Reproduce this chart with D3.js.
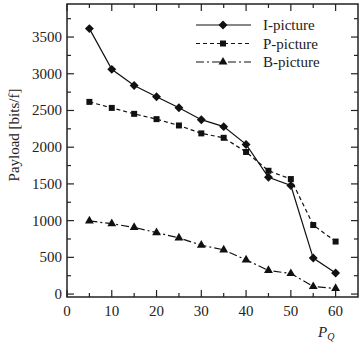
<!DOCTYPE html>
<html>
<head>
<meta charset="utf-8">
<script src="https://cdn.jsdelivr.net/npm/d3@7"></script>
<style>
  body { margin: 0; background: #fff; }
  text { font-family: "Liberation Serif", "DejaVu Serif", serif; fill: #222; }
</style>
</head>
<body>
<div id="chart"></div>
<script>
// P_Q values on the x axis
var pq = [5, 10, 15, 20, 25, 30, 35, 40, 45, 50, 55, 60];
// payload in bits per frame
var iPicture = [3615, 3060, 2840, 2688, 2537, 2375, 2280, 2038, 1590, 1478, 490, 287];
var pPicture = [2617, 2535, 2454, 2382, 2296, 2188, 2128, 1935, 1679, 1566, 940, 715];
var bPicture = [996, 958, 908, 837, 765, 666, 602, 466, 321, 280, 103, 76];
var seriesNames = ["I-picture", "P-picture", "B-picture"];
var xTicks = [0, 10, 20, 30, 40, 50, 60];
var yTicks = [0, 500, 1000, 1500, 2000, 2500, 3000, 3500];

var width = 360, height = 347;
var margin = { top: 4, right: 2, bottom: 50, left: 67 };

var svg = d3.select("#chart")
  .append("svg")
  .attr("width", width)
  .attr("height", height);

var x = d3.scaleLinear()
  .domain([0, 65])
  .range([margin.left, width - margin.right]);

var y = d3.scaleLinear()
  .domain([-40, 3950])
  .range([height - margin.bottom, margin.top]);

var x0 = x.range()[0], x1 = x.range()[1];
var y0 = y.range()[0], y1 = y.range()[1];

var minorX = d3.range(0, 65, 5);
var minorY = d3.range(0, 3950, 250);

// ticks on all four sides, pointing inward
function tickLen(v, step) { return v % step === 0 ? 7 : 4; }

var ticks = svg.append("g").attr("stroke", "#222").attr("stroke-width", 1.2);
minorX.forEach(function (v) {
  var l = tickLen(v, 10);
  ticks.append("line").attr("x1", x(v)).attr("x2", x(v)).attr("y1", y0).attr("y2", y0 - l);
  ticks.append("line").attr("x1", x(v)).attr("x2", x(v)).attr("y1", y1).attr("y2", y1 + l);
});
minorY.forEach(function (v) {
  var l = tickLen(v, 500);
  ticks.append("line").attr("y1", y(v)).attr("y2", y(v)).attr("x1", x0).attr("x2", x0 + l);
  ticks.append("line").attr("y1", y(v)).attr("y2", y(v)).attr("x1", x1).attr("x2", x1 - l);
});

// frame
svg.append("rect")
  .attr("x", x0)
  .attr("y", y1)
  .attr("width", x1 - x0)
  .attr("height", y0 - y1)
  .attr("fill", "none")
  .attr("stroke", "#222")
  .attr("stroke-width", 1.5);

// tick labels
svg.selectAll(".xlab")
  .data(xTicks)
  .enter()
  .append("text")
  .attr("x", function (d) { return x(d); })
  .attr("y", 316)
  .attr("text-anchor", "middle")
  .attr("font-size", "15px")
  .text(function (d) { return d; });

svg.selectAll(".ylab")
  .data(yTicks)
  .enter()
  .append("text")
  .attr("x", 62)
  .attr("y", function (d) { return y(d) + 5; })
  .attr("text-anchor", "end")
  .attr("font-size", "15px")
  .text(function (d) { return d; });

// axis titles
svg.append("text")
  .attr("transform", "translate(19,135) rotate(-90)")
  .attr("text-anchor", "middle")
  .attr("font-size", "15px")
  .text("Payload [bits/f]");

var xt = svg.append("text")
  .attr("x", 318)
  .attr("y", 337)
  .attr("font-size", "15px")
  .attr("font-style", "italic");
xt.append("tspan").text("P");
xt.append("tspan").attr("font-size", "10px").attr("dy", 3).text("Q");

// series (diamond = square turned 45 degrees)
var series = [
  { name: seriesNames[0], values: iPicture, dash: null, marker: d3.symbolSquare, size: 40, rot: 45 },
  { name: seriesNames[1], values: pPicture, dash: "4,3", marker: d3.symbolSquare, size: 36, rot: 0 },
  { name: seriesNames[2], values: bPicture, dash: "8,3,2,3", marker: d3.symbolTriangle, size: 34, rot: 0 }
];

var line = d3.line()
  .x(function (d) { return x(d[0]); })
  .y(function (d) { return y(d[1]); });

series.forEach(function (s) {
  var pts = pq.map(function (p, i) { return [p, s.values[i]]; });
  svg.append("path")
    .datum(pts)
    .attr("d", line)
    .attr("fill", "none")
    .attr("stroke", "#111")
    .attr("stroke-width", 1.2)
    .attr("stroke-dasharray", s.dash);
  svg.selectAll(null)
    .data(pts)
    .enter()
    .append("path")
    .attr("d", d3.symbol().type(s.marker).size(s.size))
    .attr("transform", function (d) { return "translate(" + x(d[0]) + "," + y(d[1]) + ") rotate(" + s.rot + ")"; })
    .attr("fill", "#111");
});

// legend
var legend = svg.append("g");
series.forEach(function (s, i) {
  var ly = 25 + i * 18.5;
  legend.append("line")
    .attr("x1", 196).attr("x2", 251)
    .attr("y1", ly).attr("y2", ly)
    .attr("stroke", "#111")
    .attr("stroke-width", 1.2)
    .attr("stroke-dasharray", s.dash);
  legend.append("path")
    .attr("d", d3.symbol().type(s.marker).size(s.size))
    .attr("transform", "translate(223," + ly + ") rotate(" + s.rot + ")")
    .attr("fill", "#111");
  legend.append("text")
    .attr("x", 263)
    .attr("y", ly + 5)
    .attr("font-size", "15px")
    .text(s.name);
});
</script>
</body>
</html>
